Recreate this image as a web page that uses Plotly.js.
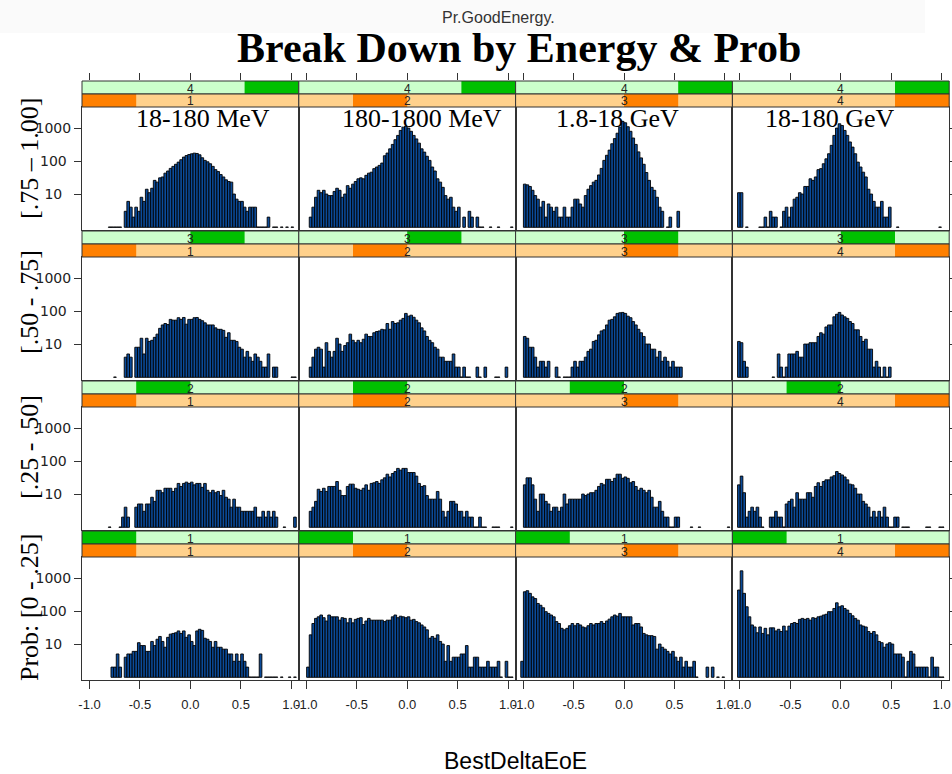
<!DOCTYPE html>
<html><head><meta charset="utf-8">
<script src="https://cdn.plot.ly/plotly-3.0.1.min.js"></script>
<style>html,body{margin:0;padding:0;background:#fff}#chart{width:952px;height:774px}</style>
</head><body><div id="chart"></div>
<script>
// ---------------- data ----------------
const energyLabels = ['18-180 MeV', '180-1800 MeV', '1.8-18 GeV', '18-180 GeV'];
const energyLevels = [1, 2, 3, 4];
const probLabels = ['[.75 \u2013 1.00]', '[.50 - .75]', '[.25 - .50]', 'Prob: [0 - .25]'];
const probLevels = [4, 3, 2, 1];
const binLo = -1.05, binWidth = 0.02625, nBins = 80;
const xTickVals = [-1, -0.5, 0, 0.5, 1];
const xTickText = ['-1.0', '-0.5', '0.0', '0.5', '1.0'];
const yTickVals = [10, 100, 1000];
const yTickText = ['10\u2007', '100\u2008', '1000'];

// counts per bin (80 bins from -1.05 to 1.05), rows = Prob level, cols = energy level
const r1c1 = [0,0,0,0,0,0,0,0,0,1,1,1,1,1,0,3,6,4,2,4,3,8,6,14,11,15,26,23,31,33,43,50,60,69,80,93,110,132,147,158,166,174,170,155,126,105,95,83,69,55,48,39,33,27,24,23,10,7,6,6,4,3,4,4,4,1,1,1,1,2,0,1,1,0,1,0,1,0,1,0];
const r1c2 = [0,0,0,2,4,8,13,11,13,10,9,9,12,15,13,8,10,18,15,20,24,29,31,29,37,43,46,59,66,74,87,145,175,235,320,445,600,850,1070,1150,1000,800,600,470,350,235,187,140,105,66,50,29,23,16,9,7,8,4,3,4,0,2,0,3,2,0,2,1,1,0,0,1,0,0,1,0,0,0,0,1];
const r1c3 = [0,0,20,19,17,13,9,7,4,6,2,5,4,3,4,2,2,4,2,2,4,7,7,5,4,9,14,18,23,26,38,60,105,150,215,335,480,700,1070,1600,1450,1100,800,500,320,190,125,80,45,26,16,13,8,4,3,0,1,2,0,0,3,0,0,0,0,0,0,0,0,0,0,0,0,0,0,0,0,0,0,0];
const r1c4 = [0,11,11,0,1,0,0,0,0,1,1,2,1,3,2,2,0,1,3,4,2,4,7,8,11,10,17,17,29,26,33,55,59,83,117,167,300,600,1000,1350,1200,850,600,380,265,167,93,66,46,33,14,10,6,4,4,6,2,2,4,0,0,1,0,0,0,0,0,0,0,0,0,0,0,0,0,0,0,1,0,0];
const r2c1 = [0,0,0,0,0,0,0,0,0,0,0,1,0,0,0,4,5,4,0,8,8,15,5,15,12,13,16,20,30,38,42,39,56,53,53,63,56,64,40,56,56,63,64,56,51,44,38,38,38,31,28,28,26,16,22,13,13,12,8,7,4,6,4,3,5,4,3,2,2,5,0,2,2,0,0,0,0,0,1,1];
const r2c2 = [0,0,0,2,4,7,8,7,2,11,6,4,6,15,10,6,9,11,20,13,11,13,11,14,20,17,17,22,24,25,28,27,42,28,48,42,44,53,60,85,70,75,65,53,44,31,25,17,13,11,8,7,4,4,3,3,3,5,2,2,1,2,1,1,0,0,2,1,0,2,0,0,0,1,1,0,0,2,0,0];
const r2c3 = [0,0,17,15,8,8,4,2,3,3,2,3,0,0,2,1,0,1,1,1,2,3,2,3,3,4,6,7,12,13,19,25,27,38,53,56,67,85,89,91,85,70,63,48,38,28,22,17,10,10,7,7,4,6,3,4,3,2,3,2,2,2,0,0,0,0,0,0,0,0,0,0,0,0,0,0,0,0,0,0];
const r2c4 = [0,12,11,3,2,0,0,0,0,0,0,0,0,0,1,0,5,2,1,2,5,5,5,6,4,4,10,10,11,11,11,17,22,20,33,38,38,67,80,91,76,67,60,48,42,27,27,17,12,14,7,7,2,3,2,1,2,1,2,0,0,0,0,0,0,0,0,0,0,0,0,0,0,0,0,0,0,0,0,0];
const r3c1 = [0,0,0,0,0,0,0,0,0,1,0,0,0,1,2,4,2,0,0,4,5,5,3,5,5,8,6,13,13,11,15,15,15,12,15,21,17,21,23,21,23,19,21,21,16,21,13,11,13,11,12,9,13,8,7,4,7,4,4,3,3,3,3,3,4,2,2,3,2,3,2,3,2,0,0,1,0,0,0,2];
const r3c2 = [0,0,0,3,4,6,14,12,15,12,17,17,17,24,13,9,9,17,20,20,15,14,13,15,19,13,21,22,24,21,27,31,40,33,42,48,60,53,60,60,45,45,45,35,21,17,18,9,7,7,7,12,7,3,2,3,6,6,5,3,3,2,3,2,2,1,1,2,1,1,0,0,1,1,1,0,0,0,0,1];
const r3c3 = [0,0,19,31,31,19,7,3,10,10,6,5,3,4,4,3,4,10,5,7,7,7,7,7,10,9,10,11,11,13,17,21,19,28,28,24,30,40,40,30,33,30,22,24,17,13,15,13,11,13,8,4,4,6,3,2,2,1,1,2,2,0,0,0,0,1,0,0,1,0,0,0,0,0,0,0,0,0,0,1];
const r3c4 = [0,19,35,11,2,3,4,3,4,2,1,0,0,2,2,3,2,2,1,5,6,7,4,11,7,7,7,11,11,8,17,22,17,24,27,27,33,36,48,42,38,33,27,20,19,15,10,10,6,5,4,2,3,2,3,2,4,2,1,1,2,2,0,1,1,1,0,0,0,0,0,0,1,1,0,0,0,1,1,0];
const r4c1 = [0,0,0,0,0,0,0,0,0,0,2,2,5,2,0,4,5,5,6,6,11,9,9,6,6,12,9,14,17,12,8,16,20,21,22,25,21,25,16,19,12,9,25,28,26,15,14,12,8,12,8,8,7,7,5,5,3,5,3,5,3,2,1,1,1,1,5,0,1,1,1,1,1,0,1,0,0,1,0,1];
const r4c2 = [0,0,2,19,42,60,67,76,63,50,76,67,67,67,53,63,60,44,60,44,56,60,63,39,50,60,53,53,53,53,53,48,53,53,67,76,63,70,67,63,67,53,56,48,44,38,33,27,15,17,15,19,12,10,3,9,3,4,4,4,5,5,9,2,2,4,4,2,2,2,3,2,2,2,3,1,0,3,1,1];
const r4c3 = [0,3,385,415,345,270,240,170,150,126,96,85,76,67,48,42,30,27,30,36,42,36,42,38,33,31,36,42,38,42,42,48,42,50,57,67,76,70,85,67,67,67,67,38,42,42,33,21,19,18,18,17,7,10,8,7,6,5,6,4,3,4,2,3,2,2,3,1,0,0,0,2,0,2,0,1,0,1,0,0];
const r4c4 = [0,435,1660,345,135,67,38,33,22,33,21,30,19,31,31,25,28,24,35,25,35,42,45,42,56,60,56,60,53,63,60,67,70,76,80,96,96,120,178,135,145,120,107,85,72,60,53,38,35,33,24,21,24,19,12,11,8,10,11,10,5,5,5,4,1,3,6,5,2,2,2,2,2,1,4,2,2,1,1,0];

const countsGrid = [[r1c1, r1c2, r1c3, r1c4], [r2c1, r2c2, r2c3, r2c4], [r3c1, r3c2, r3c3, r3c4], [r4c1, r4c2, r4c3, r4c4]];

// ---------------- layout geometry ----------------
const W = 952, H = 774;
const colLeft = 82, colW = 216.8;
const rowTop = [81, 231, 381, 531];
const stripH = 13, panelH = 123;
const px = v => v / W, py = v => 1 - v / H;
const BASE = 0.98;
const barFill = '#0b4b9a';
const lineCol = '#333';
const lightGreen = '#ccffcc', darkGreen = '#00c000', lightOrange = '#ffd18c', darkOrange = '#ff8000';
const centers = Array.from({length: nBins}, (_, i) => +(binLo + binWidth * (i + 0.5)).toFixed(5));

const data = [];
const layout = {
  width: W, height: H,
  margin: {l: 0, r: 0, t: 0, b: 0},
  paper_bgcolor: '#fff', plot_bgcolor: '#fff',
  showlegend: false, hovermode: false,
  bargap: 0,
  shapes: [], annotations: []
};

const tickFontY = {family: 'DejaVu Sans, Arial, sans-serif', size: 14, color: '#222'};
const tickFontX = {family: 'Liberation Sans, Arial, sans-serif', size: 13, color: '#222'};

for (let r = 0; r < 4; r++) {
  for (let c = 0; c < 4; c++) {
    const k = r * 4 + c + 1;
    const xn = 'x' + (k === 1 ? '' : k), yn = 'y' + (k === 1 ? '' : k);
    const counts = countsGrid[r][c];
    data.push({
      type: 'bar', x: centers,
      y: counts.map(v => v > 0 ? v - BASE : null),
      base: BASE, width: binWidth,
      marker: {color: barFill, line: {color: '#000', width: 0.9}},
      xaxis: xn, yaxis: yn, hoverinfo: 'skip', showlegend: false
    });
    const x0 = colLeft + c * colW, x1 = x0 + colW;
    const pTop = rowTop[r] + 2 * stripH, pBot = pTop + panelH;
    const bottom = (r === 3);
    layout['xaxis' + (k === 1 ? '' : k)] = {
      domain: [px(x0), px(x1)], anchor: yn, range: [-1.075, 1.075],
      showgrid: false, zeroline: false, showline: true, mirror: true,
      linecolor: lineCol, linewidth: 1,
      ticks: bottom ? 'outside' : '', ticklen: 8, tickcolor: lineCol,
      tickmode: 'array', tickvals: xTickVals, ticktext: xTickText,
      showticklabels: bottom, tickfont: tickFontX, ticklabelstandoff: 4
    };
    const yax = {
      domain: [py(pBot), py(pTop)], anchor: xn, type: 'log', range: [-0.09, 3.64],
      showgrid: false, zeroline: false, showline: true, mirror: true,
      linecolor: lineCol, linewidth: 1,
      tickmode: 'array', tickvals: yTickVals, ticktext: yTickText,
      ticks: '', showticklabels: false, tickcolor: lineCol, ticklen: 7, tickfont: tickFontY
    };
    if (c === 0) { yax.ticks = 'outside'; yax.showticklabels = true; }
    if (c === 3) { yax.side = 'right'; yax.ticks = 'outside'; }
    layout['yaxis' + (k === 1 ? '' : k)] = yax;

    // strips: top = Prob level (green), bottom = energy level (orange)
    const stripDefs = [
      {y0: rowTop[r], lvl: probLevels[r], light: lightGreen, dark: darkGreen},
      {y0: rowTop[r] + stripH, lvl: energyLevels[c], light: lightOrange, dark: darkOrange}
    ];
    stripDefs.forEach(s => {
      const yA = py(s.y0 + stripH), yB = py(s.y0);
      layout.shapes.push({type: 'rect', xref: 'paper', yref: 'paper', x0: px(x0), x1: px(x1), y0: yA, y1: yB,
        fillcolor: s.light, line: {width: 0}});
      layout.shapes.push({type: 'rect', xref: 'paper', yref: 'paper',
        x0: px(x0 + colW * (s.lvl - 1) / 4), x1: px(x0 + colW * s.lvl / 4), y0: yA, y1: yB,
        fillcolor: s.dark, line: {width: 0}});
      layout.shapes.push({type: 'rect', xref: 'paper', yref: 'paper', x0: px(x0), x1: px(x1), y0: yA, y1: yB,
        fillcolor: 'rgba(0,0,0,0)', line: {color: lineCol, width: 1}});
      layout.annotations.push({text: String(s.lvl), xref: 'paper', yref: 'paper',
        x: px((x0 + x1) / 2), y: py(s.y0 + stripH / 2 + 0.5), xanchor: 'center', yanchor: 'middle',
        height: 11, showarrow: false, font: {family: 'Liberation Sans, Arial, sans-serif', size: 12, color: '#222'}});
    });
  }
}

// top tick axes above the first-row strips
for (let c = 0; c < 4; c++) {
  const k = 17 + c;
  const x0 = colLeft + c * colW, x1 = x0 + colW;
  layout['xaxis' + k] = {
    domain: [px(x0), px(x1)], anchor: 'y' + k, side: 'top', range: [-1.075, 1.075],
    showgrid: false, zeroline: false, showline: false,
    ticks: 'outside', ticklen: 7, tickcolor: lineCol,
    tickmode: 'array', tickvals: xTickVals, showticklabels: false
  };
  layout['yaxis' + k] = {domain: [py(rowTop[0] + 2 * stripH), py(rowTop[0])], anchor: 'x' + k,
    range: [0, 1], visible: false};
  data.push({type: 'scatter', mode: 'markers', x: [0], y: [0.5], marker: {opacity: 0},
    xaxis: 'x' + k, yaxis: 'y' + k, hoverinfo: 'skip', showlegend: false});
}

// faint header band
layout.shapes.push({type: 'rect', xref: 'paper', yref: 'paper', layer: 'below',
  x0: 0, x1: px(925), y0: py(33), y1: 1, fillcolor: '#fafafa', line: {width: 0}});

// titles and labels
const serif = 'Liberation Serif, Times New Roman, serif';
layout.annotations.push({text: 'Pr.GoodEnergy.', xref: 'paper', yref: 'paper', x: px(498), y: py(17),
  xanchor: 'center', yanchor: 'middle', showarrow: false,
  font: {family: 'Liberation Sans, Arial, sans-serif', size: 16, color: '#333'}});
layout.annotations.push({text: '<b>Break Down by Energy &amp; Prob</b>', xref: 'paper', yref: 'paper',
  x: px(519), y: py(48), xanchor: 'center', yanchor: 'middle', showarrow: false,
  font: {family: serif, size: 42, color: '#000'}});
const energyX = [202.5, 422, 617, 829];
energyLabels.forEach((t, c) => layout.annotations.push({text: t, xref: 'paper', yref: 'paper',
  x: px(energyX[c]), y: py(118), xanchor: 'center', yanchor: 'middle', height: 20, showarrow: false,
  font: {family: serif, size: 26, color: '#000'}}));
const probY = [159, 302, 447, 608];
probLabels.forEach((t, r) => layout.annotations.push({text: t, xref: 'paper', yref: 'paper',
  x: px(29), y: py(probY[r]), xanchor: 'center', yanchor: 'middle', textangle: -90, showarrow: false,
  font: {family: serif, size: 26, color: '#000'}}));
layout.annotations.push({text: 'BestDeltaEoE', xref: 'paper', yref: 'paper', x: px(515), y: py(761),
  xanchor: 'center', yanchor: 'middle', height: 24, showarrow: false,
  font: {family: 'Liberation Sans, Arial, sans-serif', size: 23, color: '#000'}});

Plotly.newPlot('chart', data, layout, {displayModeBar: false, staticPlot: true});
</script>
</body></html>
